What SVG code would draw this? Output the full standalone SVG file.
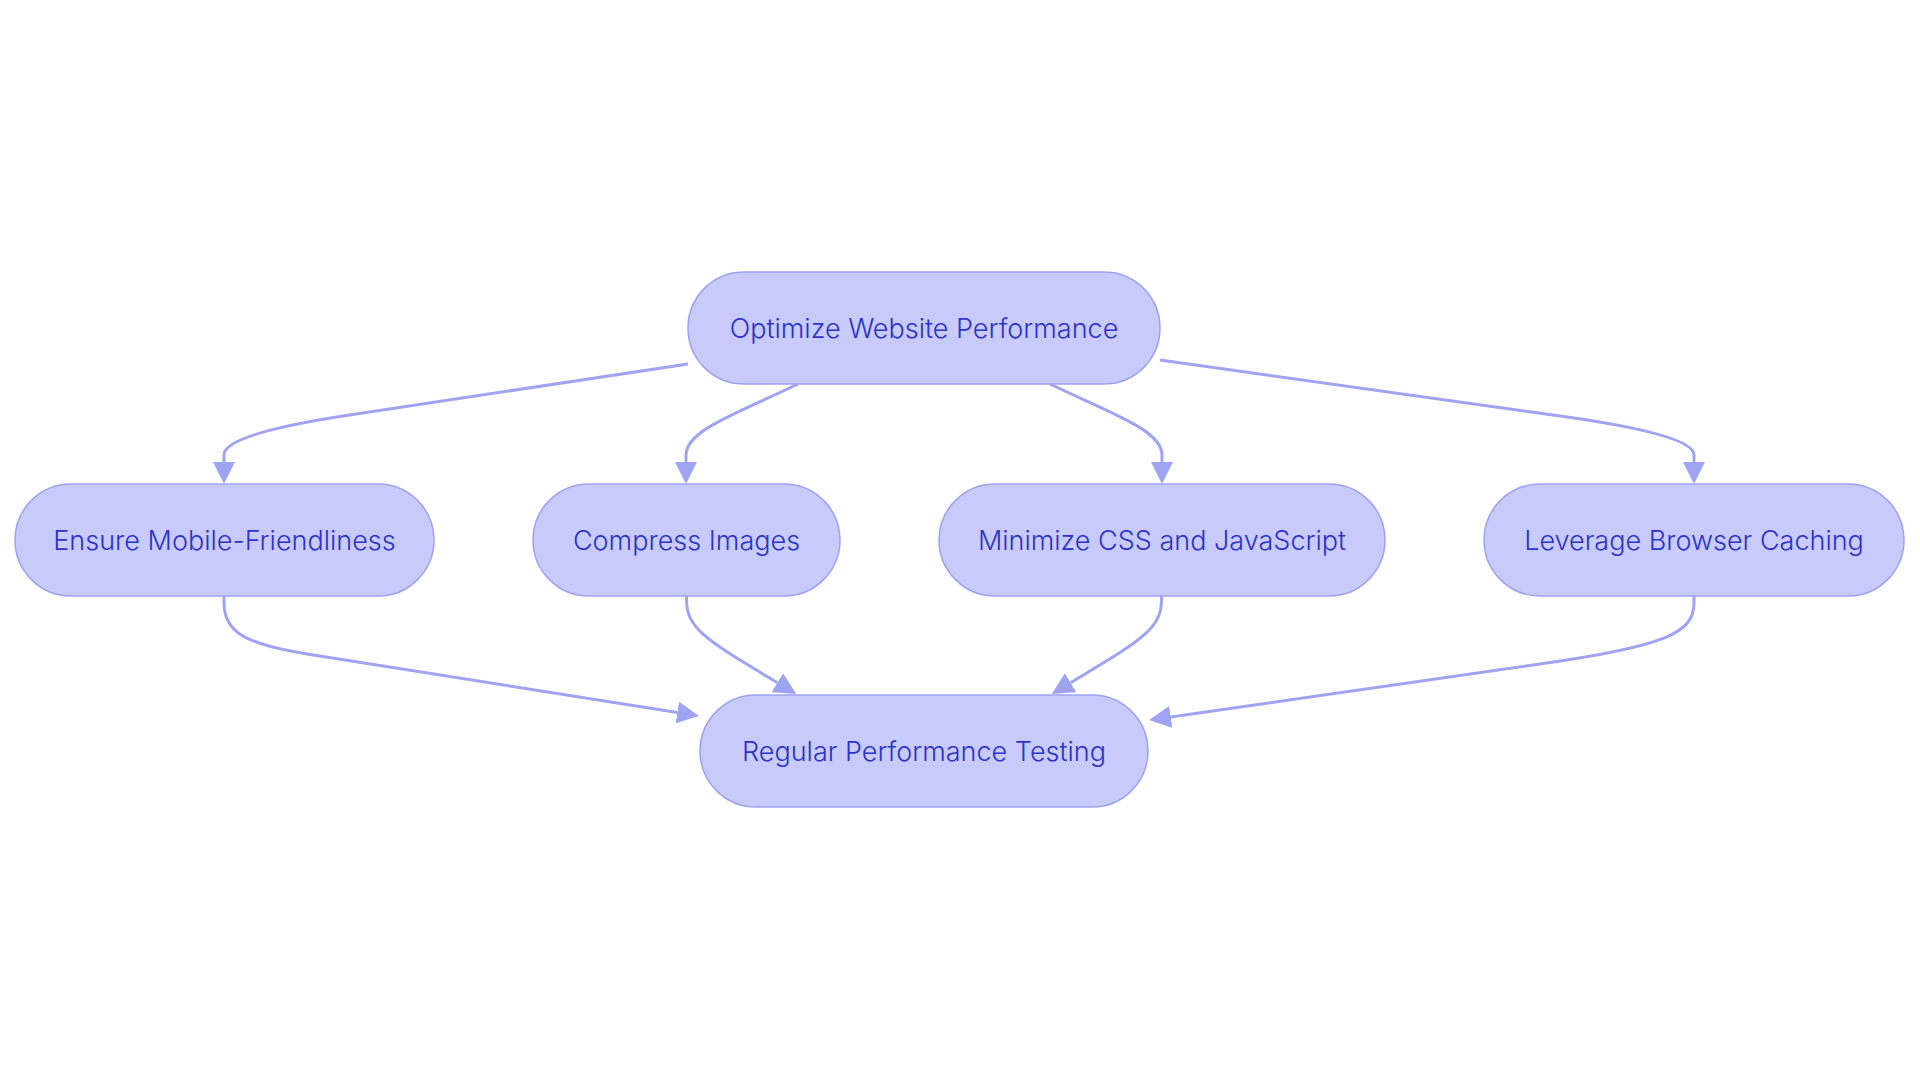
<svg xmlns="http://www.w3.org/2000/svg" width="1920" height="1083" viewBox="0 0 1920 1083">
<defs>
<style>
.node rect{fill:#c9cafc;stroke:#9da2f0;stroke-width:1.5}
.node text{fill:#2b33c9;font-family:Inter,"Noto Sans","Liberation Sans",sans-serif;font-size:27px;font-weight:300;text-anchor:middle;dominant-baseline:central}
.edge{fill:none;stroke:#9ea3f2;stroke-width:3}
</style>
<marker id="arr" viewBox="0 0 22 22" refX="0" refY="11" markerWidth="22" markerHeight="22" markerUnits="userSpaceOnUse" orient="auto">
<path d="M0,0 L22,11 L0,22 z" fill="#9ea3f2"/>
</marker>
</defs>
<rect width="1920" height="1083" fill="#ffffff"/>
<g id="connectors">
<path class="edge" marker-end="url(#arr)" d="M688,364 L343,416 C285,425 224,438 224,455 L224,462"/>
<path class="edge" marker-end="url(#arr)" d="M798,384 C738,413 686,430 686,455 L686,462"/>
<path class="edge" marker-end="url(#arr)" d="M1050,384 C1110,413 1162,430 1162,455 L1162,462"/>
<path class="edge" marker-end="url(#arr)" d="M1160,360 L1560,416 C1625,425 1694,438 1694,455 L1694,462"/>
<path class="edge" marker-end="url(#arr)" d="M224,596 L224,603 C224,632 245,644 307,654 L677.3,712.5"/>
<path class="edge" marker-end="url(#arr)" d="M686.5,596 L686.5,600 C686.5,630 710,642 777.4,682.7"/>
<path class="edge" marker-end="url(#arr)" d="M1161.5,596 L1161.5,600 C1161.5,630 1138,642 1070.6,682.7"/>
<path class="edge" marker-end="url(#arr)" d="M1694,596 L1694,603 C1694,632 1668,646 1540,664 L1170.8,716.9"/>
</g>
<g id="n-optimize" class="node"><rect x="688" y="272" width="472" height="112" rx="56" ry="56"/><text x="924" y="328">Optimize Website Performance</text></g>
<g id="n-mobile" class="node"><rect x="15" y="484" width="419" height="112" rx="56" ry="56"/><text x="224.5" y="540">Ensure Mobile-Friendliness</text></g>
<g id="n-compress" class="node"><rect x="533" y="484" width="307" height="112" rx="56" ry="56"/><text x="686.5" y="540">Compress Images</text></g>
<g id="n-minimize" class="node"><rect x="939" y="484" width="446" height="112" rx="56" ry="56"/><text x="1162" y="540">Minimize CSS and JavaScript</text></g>
<g id="n-caching" class="node"><rect x="1484" y="484" width="420" height="112" rx="56" ry="56"/><text x="1694" y="540">Leverage Browser Caching</text></g>
<g id="n-testing" class="node"><rect x="700" y="695" width="448" height="112" rx="56" ry="56"/><text x="924" y="751">Regular Performance Testing</text></g>
</svg>
